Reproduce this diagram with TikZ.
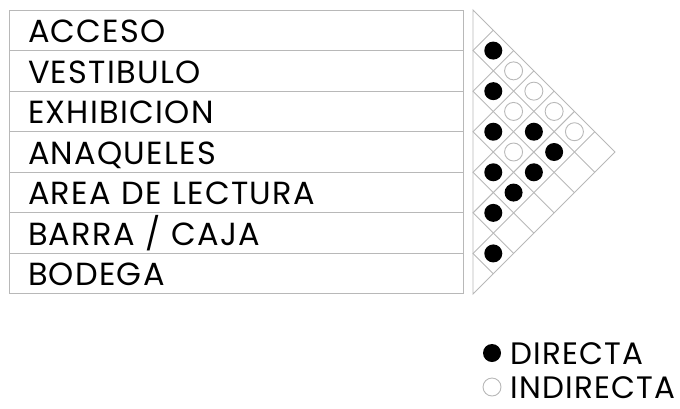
\documentclass[tikz,border=0pt]{standalone}
\usepackage{fontspec}
\setmainfont{Poppins}[LetterSpace=4]
\usetikzlibrary{positioning}
\definecolor{linegray}{gray}{0.72}

\begin{document}
\begin{tikzpicture}[
  x=1pt,y=-1pt,
  font=\fontsize{32}{34}\selectfont,
  space/.style={draw=linegray,line width=1pt,minimum width=454pt,
    minimum height=40.57pt,text width=416pt,align=left,inner xsep=19pt,
    inner ysep=0pt,outer sep=0pt,text height=24.5pt,text depth=0pt},
  matrixline/.style={draw=linegray,line width=0.9pt},
  directa/.style={circle,fill=black,minimum size=18pt,inner sep=0pt},
  indirecta/.style={circle,draw=linegray,line width=0.9pt,fill=white,
    minimum size=18pt,inner sep=0pt},
  legtext/.style={inner sep=1pt,text height=22pt,text depth=0pt,
    font=\fontsize{31}{33}\selectfont}
]
  \useasboundingbox (0,0) rectangle (680,408);
  \pgfmathsetmacro\rowh{284/7}

  % spaces
  \node[space,anchor=north west] (acceso) at (9,10) {ACCESO};
  \node[space,below=0pt of acceso] (vestibulo) {VESTIBULO};
  \node[space,below=0pt of vestibulo] (exhibicion) {EXHIBICION};
  \node[space,below=0pt of exhibicion] (anaqueles) {ANAQUELES};
  \node[space,below=0pt of anaqueles] (lectura) {AREA DE LECTURA};
  \node[space,below=0pt of lectura] (barra) {BARRA / CAJA};
  \node[space,below=0pt of barra] (bodega) {BODEGA};

  % relation matrix
  \coordinate (tritop) at (473,10);
  \coordinate (triapex) at ({473+3.5*\rowh},{10+3.5*\rowh});
  \coordinate (tribot) at (473,294);
  \draw[matrixline] (tritop) -- (triapex) -- (tribot) -- cycle;
  \foreach \k in {1,...,6}
    \draw[matrixline] ({473+\k*\rowh/2},{10+\k*\rowh/2})
      -- (473,{10+\k*\rowh})
      -- ({473+(7-\k)*\rowh/2},{10+\k*\rowh+(7-\k)*\rowh/2});

  \foreach \i/\j in {0/1,1/2,2/3,1/4,1/5,3/4,2/5,3/5,4/5,5/6}
    \node[directa] (d\i\j) at ({473+(\j-\i)*\rowh/2},{10+(\i+\j+1)*\rowh/2}) {};
  \foreach \i/\j in {0/2,0/3,1/3,0/4,0/5,2/4}
    \node[indirecta] (n\i\j) at ({473+(\j-\i)*\rowh/2},{10+(\i+\j+1)*\rowh/2}) {};

  % legend
  \node[directa] (legdir) at (492,353) {};
  \node[legtext,right=8pt of legdir] (legdirtext) {DIRECTA};
  \node[indirecta] (legind) at (492,387) {};
  \node[legtext,right=8pt of legind] (legindtext) {INDIRECTA};
\end{tikzpicture}
\end{document}
